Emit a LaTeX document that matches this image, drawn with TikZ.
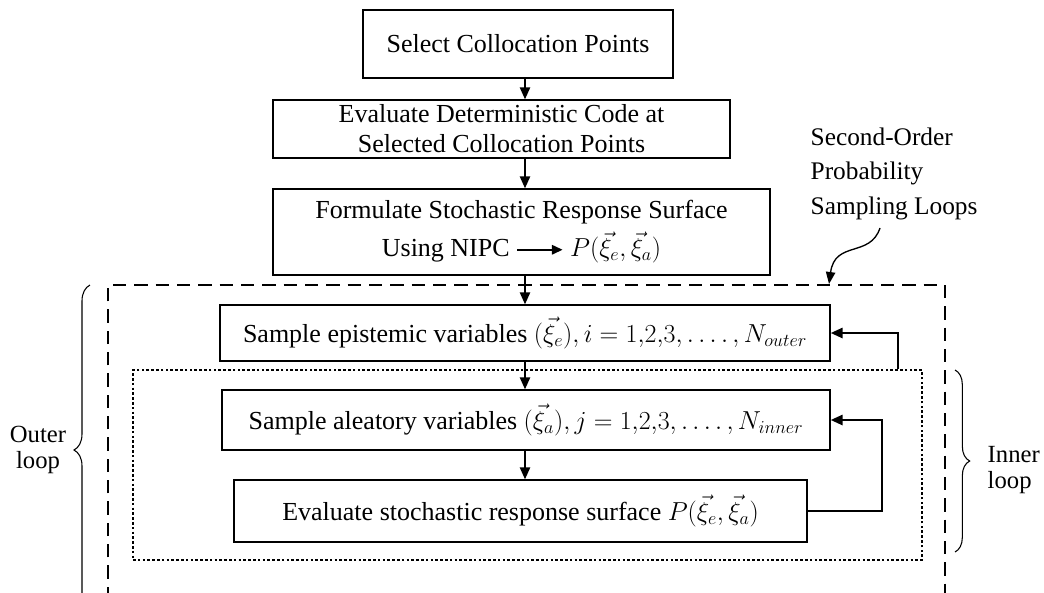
\RequirePackage{fix-cm}
\documentclass[tikz,border=0pt]{standalone}
\usepackage{fontspec}
\setmainfont{Liberation Serif}
\usetikzlibrary{arrows.meta,decorations.pathreplacing,calc}
\begin{document}
\begin{tikzpicture}[x=0.75pt,y=-0.75pt,
  font=\fontsize{19.5}{23}\selectfont,
  box/.style={draw,line width=0.9pt,inner sep=0pt,align=center},
  flow/.style={line width=1.7pt,-{Triangle[length=9pt,width=7.5pt]}},
  loopline/.style={line width=2pt,-{Triangle[length=9pt,width=7.5pt]}},
  outerframe/.style={line width=2.2pt,dash pattern=on 10pt off 6pt},
  innerframe/.style={draw,line width=1.9pt,dash pattern=on 1.9pt off 1.7pt,inner sep=0pt},
  bracebar/.style={decorate,line width=0.8pt},
  note/.style={align=left,font=\fontsize{19}{26}\selectfont},
  side/.style={font=\fontsize{18.5}{20}\selectfont},
]
\useasboundingbox (0,0) rectangle (1044,592);

% process boxes
\node[box,minimum width=232.5pt,minimum height=51pt] (b1) at (518,44) {Select Collocation Points};
\node[box,minimum width=342.75pt,minimum height=43.5pt,font=\fontsize{19.5}{22.5}\selectfont] (b2) at (501.5,129)
  {Evaluate Deterministic Code at\\Selected Collocation Points};
\node[box,minimum width=372.75pt,minimum height=64.5pt,font=\fontsize{19.5}{28.5}\selectfont] (b3) at (521.5,232)
  {Formulate Stochastic Response Surface\\
   Using NIPC \tikz[baseline=-0.6ex,x=1pt,y=1pt]\draw[line width=1.6pt,-{Triangle[length=8pt,width=7pt]}] (0,0) -- (34,0);
   $P\bigl(\vec{\xi}_e,\vec{\xi}_a\bigr)$};
\node[box,minimum width=457.5pt,minimum height=42pt] (b4) at (525,333)
  {Sample epistemic variables $\bigl(\vec{\xi}_e\bigr), i = 1{,}2{,}3, \ldots.\,, N_{outer}$};
\node[box,minimum width=456pt,minimum height=45pt] (b5) at (526,420)
  {Sample aleatory variables $\bigl(\vec{\xi}_a\bigr), j = 1{,}2{,}3, \ldots.\,, N_{inner}$};
\node[box,minimum width=429.75pt,minimum height=46.5pt] (b6) at (520.5,511)
  {Evaluate stochastic response surface $P\bigl(\vec{\xi}_e,\vec{\xi}_a\bigr)$};

% inner (dotted) loop frame
\node[innerframe,minimum width=591.75pt,minimum height=142.5pt] (inner) at (527.5,465) {};

% outer (dashed) loop frame, open at the bottom
\coordinate (oBL) at (108,600);
\coordinate (oTL) at (108,285);
\coordinate (oTR) at (945,285);
\coordinate (oBR) at (945,600);
\draw[outerframe] (oBL) -- (oTL) -- (oTR) -- (oBR);

% main flow
\coordinate (ax) at (525,0);
\draw[flow] (b1.south -| ax) -- (b2.north -| ax);
\draw[flow] (b2.south -| ax) -- (b3.north -| ax);
\draw[flow] (b3.south -| ax) -- (b4.north -| ax);
\draw[flow] (b4.south -| ax) -- (b5.north -| ax);
\draw[flow] (b5.south -| ax) -- (b6.north -| ax);

% feedback loops
\coordinate (ix) at (882,0);
\coordinate (ox) at (898,0);
\draw[loopline] (b6.east) -- (b6.east -| ix) -- (b5.east -| ix) -- (b5.east);
\draw[loopline] (inner.north -| ox) -- (b4.east -| ox) -- (b4.east);

% annotation
\node[note,anchor=north west] (sol) at (806,123) {Second-Order\\Probability\\Sampling Loops};
\coordinate (cs) at (880,228);
\coordinate (ce) at (829,284);
\draw[line width=1pt,-{Triangle[length=9pt,width=7pt]}] (cs) .. controls (870,258) and (835,240) .. (ce);

% braces
\coordinate (lbB) at (90,615);
\coordinate (lbT) at (90,285);
\draw[bracebar,decoration={brace,amplitude=12pt}] (lbB) -- (lbT);
\node[side,align=center] (outerlbl) at (38,450) {Outer\\loop};
\coordinate (rbT) at (955,370);
\coordinate (rbB) at (955,552);
\draw[bracebar,decoration={brace,amplitude=11pt}] (rbT) -- (rbB);
\node[side,align=left,anchor=west] (innerlbl) at (983,470) {Inner\\loop};
\end{tikzpicture}
\end{document}
